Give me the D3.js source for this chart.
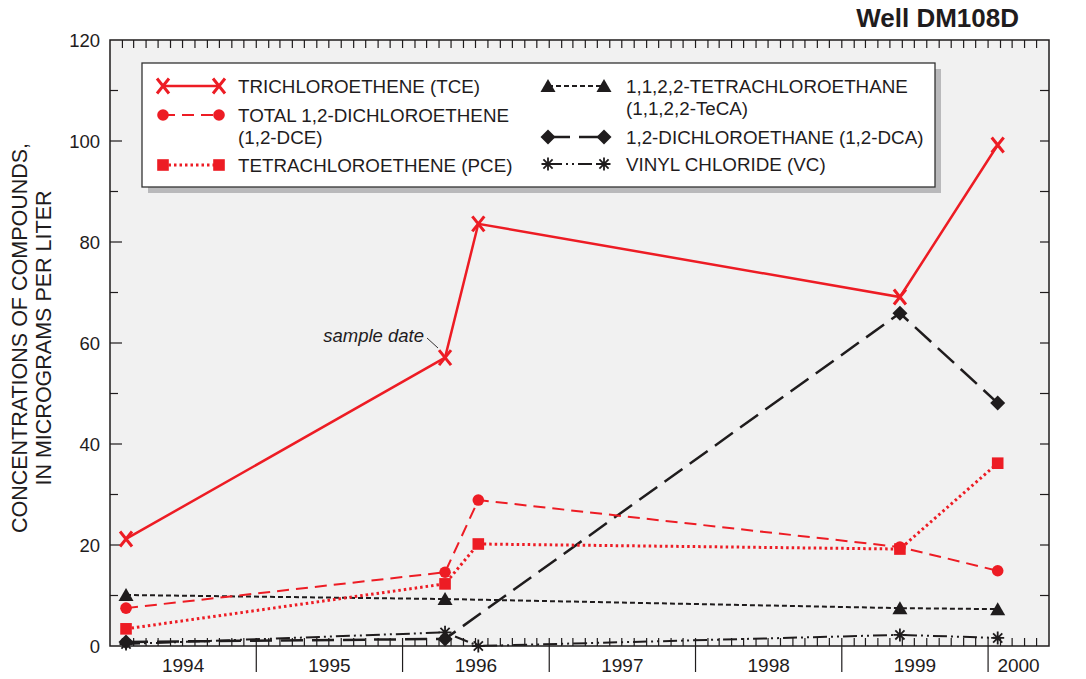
<!DOCTYPE html>
<html>
<head>
<meta charset="utf-8">
<script src="https://cdn.jsdelivr.net/npm/d3@7"></script>
<style>
  html, body { margin: 0; padding: 0; background: #fff; }
  svg { display: block; font-family: "Liberation Sans", Arial, Helvetica, sans-serif; }
</style>
</head>
<body>
<svg id="chart" width="1086" height="679"></svg>
<script>
// Sample dates and concentrations (micrograms per liter), well DM108D
const sampleDates = ["1994-02-10", "1996-04-16", "1996-07-08", "1999-05-26", "2000-01-25"];
const tce  = [21.2, 57.1, 83.6, 69.1, 99.2];
const dce  = [7.5, 14.6, 28.9, 19.6, 14.9];
const pce  = [3.4, 12.3, 20.2, 19.2, 36.2];
const teca = [10.1, 9.3, null, 7.5, 7.3];
const dca  = [0.8, 1.4, null, 65.9, 48.1];
const vc   = [0.4, 2.7, 0.0, 2.2, 1.6];

const yTicks = [0, 20, 40, 60, 80, 100, 120];
const yearLabels = ["1994", "1995", "1996", "1997", "1998", "1999", "2000"];

const RED = "#ed1c24", BLACK = "#1f1c1d";

const series = [
  { name: "VINYL CHLORIDE (VC)", values: vc, color: BLACK, width: 2, dash: "14,4,2,4,2,4", marker: "asterisk" },
  { name: "1,2-DICHLOROETHANE (1,2-DCA)", values: dca, color: BLACK, width: 2.5, dash: "22,9", marker: "diamond" },
  { name: "1,1,2,2-TETRACHLOROETHANE", values: teca, color: BLACK, width: 2, dash: "5,3", marker: "triangle" },
  { name: "TETRACHLOROETHENE (PCE)", values: pce, color: RED, width: 3, dash: "2.5,3", marker: "square" },
  { name: "TOTAL 1,2-DICHLOROETHENE", values: dce, color: RED, width: 2, dash: "12,7", marker: "circle" },
  { name: "TRICHLOROETHENE (TCE)", values: tce, color: RED, width: 2.5, dash: null, marker: "x" }
];

const svg = d3.select("#chart");
const parse = d3.timeParse("%Y-%m-%d");
const dates = sampleDates.map(parse);

const plotL = 110, plotR = 1049, plotT = 40, plotB = 646;
const x = d3.scaleTime().domain([new Date(1994, 0, 1), new Date(2000, 5, 1)]).range([plotL, plotR]);
const y = d3.scaleLinear().domain([0, 120]).range([plotB, plotT]);

// plot background
svg.append("rect").attr("x", plotL).attr("y", plotT).attr("width", plotR - plotL).attr("height", plotB - plotT)
  .attr("fill", "#f1f1f1");

// legend box with drop shadow
const lg = { x: 142, y: 63, w: 793, h: 124 };
svg.append("rect").attr("x", lg.x + 6).attr("y", lg.y + 6).attr("width", lg.w).attr("height", lg.h).attr("fill", "#b9b9bb");
svg.append("rect").attr("x", lg.x).attr("y", lg.y).attr("width", lg.w).attr("height", lg.h)
  .attr("fill", "#fff").attr("stroke", "#333").attr("stroke-width", 1.3);

// axis ticks
const tickG = svg.append("g").attr("stroke", BLACK).attr("stroke-width", 1.2);
const months = d3.timeMonth.range(new Date(1994, 1, 1), new Date(2000, 5, 1));
months.forEach(m => {
  const px = x(m);
  tickG.append("line").attr("x1", px).attr("x2", px).attr("y1", plotT).attr("y2", plotT + 8);
  if (m.getMonth() === 0) {
    tickG.append("line").attr("x1", px).attr("x2", px).attr("y1", plotB - 8).attr("y2", plotB + 26);
  } else {
    tickG.append("line").attr("x1", px).attr("x2", px).attr("y1", plotB).attr("y2", plotB - 8);
  }
});
d3.range(10, 120, 10).forEach(v => {
  const py = y(v);
  const len = v % 20 === 0 ? 12 : 8;
  tickG.append("line").attr("x1", plotL).attr("x2", plotL + len).attr("y1", py).attr("y2", py);
  tickG.append("line").attr("x1", plotR).attr("x2", plotR - 9).attr("y1", py).attr("y2", py);
});

svg.append("rect").attr("x", plotL).attr("y", plotT).attr("width", plotR - plotL).attr("height", plotB - plotT)
  .attr("fill", "none").attr("stroke", BLACK).attr("stroke-width", 1.5);

// y tick labels
svg.append("g").selectAll("text").data(yTicks).join("text")
  .attr("x", 100).attr("y", d => y(d)).attr("dy", "0.36em")
  .attr("text-anchor", "end").attr("font-size", 18.5).attr("fill", BLACK)
  .text(d => d);

// year labels centred in each visible year span
const [d0, d1] = x.domain();
svg.append("g").selectAll("text").data(yearLabels).join("text")
  .attr("x", d => {
    const s = new Date(+d, 0, 1), e = new Date(+d + 1, 0, 1);
    const a = x(s < d0 ? d0 : s), b = x(e > d1 ? d1 : e);
    return (a + b) / 2;
  })
  .attr("y", 672).attr("text-anchor", "middle").attr("font-size", 19).attr("fill", BLACK)
  .text(d => d);

// y axis title
const yt = svg.append("text").attr("transform", "translate(0," + ((plotT + plotB) / 2 - 5) + ") rotate(-90)")
  .attr("text-anchor", "middle").attr("font-size", 21.5).attr("fill", BLACK);
yt.append("tspan").attr("x", 0).attr("y", 27).text("CONCENTRATIONS OF COMPOUNDS,");
yt.append("tspan").attr("x", 0).attr("y", 51).text("IN MICROGRAMS PER LITER");

// title
svg.append("text").attr("x", 1019).attr("y", 27).attr("text-anchor", "end")
  .attr("font-size", 26).attr("font-weight", "bold").attr("fill", BLACK).text("Well DM108D");

// marker drawing
function drawMarker(g, type, cx, cy, color) {
  const m = g.append("g").attr("transform", `translate(${cx},${cy})`);
  if (type === "x") {
    m.append("path").attr("d", "M-6,-7.5L6,7.5M6,-7.5L-6,7.5").attr("stroke", color).attr("stroke-width", 3).attr("fill", "none");
  } else if (type === "circle") {
    m.append("circle").attr("r", 5.8).attr("fill", color);
  } else if (type === "square") {
    m.append("rect").attr("x", -5.8).attr("y", -5.8).attr("width", 11.6).attr("height", 11.6).attr("fill", color);
  } else if (type === "triangle") {
    m.append("path").attr("d", "M0,-7L7.5,6L-7.5,6Z").attr("fill", color);
  } else if (type === "diamond") {
    m.append("path").attr("d", "M0,-7.5L7.5,0L0,7.5L-7.5,0Z").attr("fill", color);
  } else if (type === "asterisk") {
    m.append("path").attr("d", "M0,-6.5L0,6.5M-6.5,0L6.5,0M-4.6,-4.6L4.6,4.6M4.6,-4.6L-4.6,4.6")
      .attr("stroke", color).attr("stroke-width", 1.8).attr("fill", "none");
  }
}

// data lines and markers
const line = d3.line().x(d => x(d.date)).y(d => y(d.value));
const plotG = svg.append("g");
series.forEach(s => {
  const pts = s.values.map((v, i) => ({ date: dates[i], value: v })).filter(d => d.value !== null);
  plotG.append("path").datum(pts).attr("d", line)
    .attr("fill", "none").attr("stroke", s.color).attr("stroke-width", s.width)
    .attr("stroke-dasharray", s.dash);
  pts.forEach(p => drawMarker(plotG, s.marker, x(p.date), y(p.value), s.color));
});

// "sample date" annotation
svg.append("text").attr("x", 424).attr("y", 342).attr("text-anchor", "end")
  .attr("font-size", 18.5).attr("font-style", "italic").attr("fill", BLACK).text("sample date");
svg.append("line").attr("x1", 427).attr("y1", 338).attr("x2", 438).attr("y2", 348)
  .attr("stroke", BLACK).attr("stroke-width", 0.9);

// legend entries
const legendItems = [
  { s: series[5], lines: ["TRICHLOROETHENE (TCE)"], sx: 163, ex: 219, ty: 86, tx: 238 },
  { s: series[4], lines: ["TOTAL 1,2-DICHLOROETHENE", "(1,2-DCE)"], sx: 163, ex: 219, ty: 115, tx: 238 },
  { s: series[3], lines: ["TETRACHLOROETHENE (PCE)"], sx: 163, ex: 219, ty: 165, tx: 238 },
  { s: series[2], lines: ["1,1,2,2-TETRACHLOROETHANE", "(1,1,2,2-TeCA)"], sx: 548, ex: 604, ty: 86, tx: 626, gap: 22 },
  { s: series[1], lines: ["1,2-DICHLOROETHANE (1,2-DCA)"], sx: 548, ex: 604, ty: 137, tx: 626 },
  { s: series[0], lines: ["VINYL CHLORIDE (VC)"], sx: 548, ex: 604, ty: 164, tx: 626 }
];
const legG = svg.append("g");
legendItems.forEach(it => {
  const s = it.s;
  legG.append("line").attr("x1", it.sx).attr("x2", it.ex).attr("y1", it.ty).attr("y2", it.ty)
    .attr("stroke", s.color).attr("stroke-width", s.width).attr("stroke-dasharray", s.dash);
  drawMarker(legG, s.marker, it.sx, it.ty, s.color);
  drawMarker(legG, s.marker, it.ex, it.ty, s.color);
  it.lines.forEach((t, i) => {
    legG.append("text").attr("x", it.tx).attr("y", it.ty + i * (it.gap || 22)).attr("dy", "0.36em")
      .attr("font-size", 18.8).attr("fill", BLACK).text(t);
  });
});
</script>
</body>
</html>
